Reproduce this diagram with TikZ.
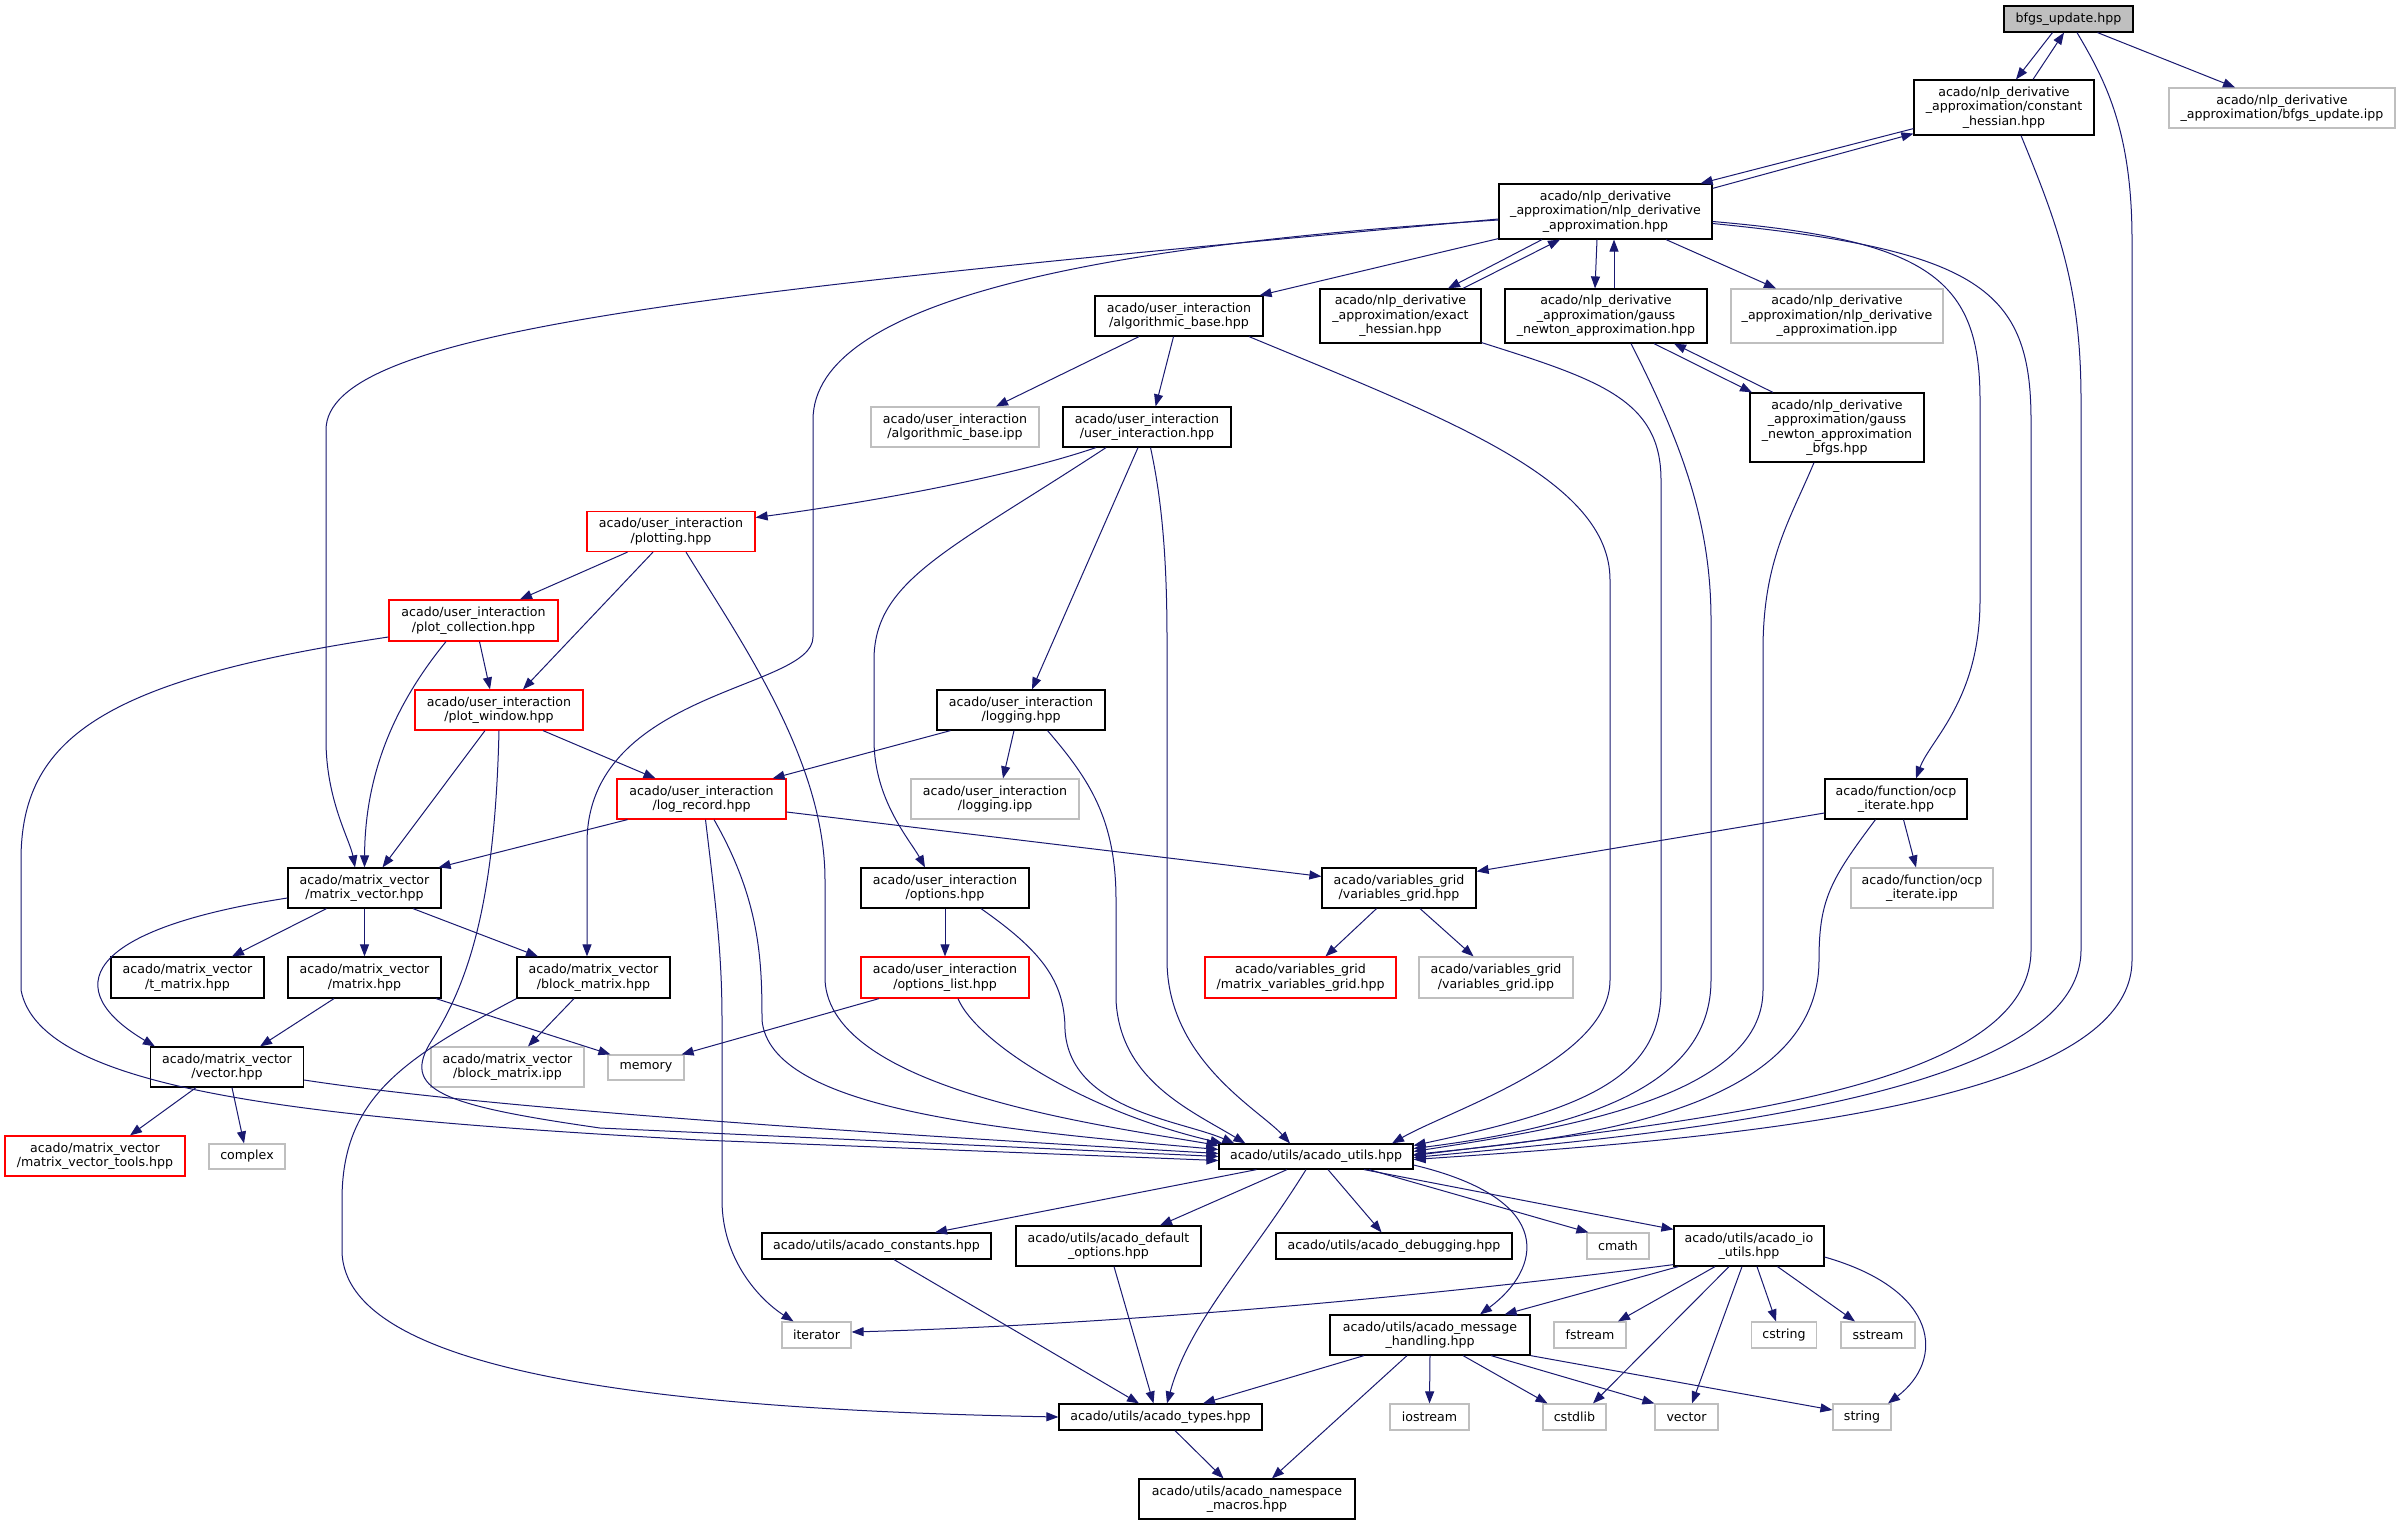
\documentclass[tikz,border=0pt]{standalone}
\usepackage{fontspec}
\setmainfont{DejaVu Sans}
\usetikzlibrary{arrows.meta}
\definecolor{edgec}{HTML}{191970}
\definecolor{grayb}{HTML}{BFBFBF}
\begin{document}
\begin{tikzpicture}[x=1pt,y=-1pt,
  boxn/.style={draw=black, line width=1.2pt, align=center, inner sep=0pt, font=\fontsize{12.6}{14.5}\selectfont, text=black},
  boxr/.style={boxn, draw=red},
  boxg/.style={boxn, draw=grayb},
  edg/.style={draw=edgec, line width=1pt, -{Triangle[length=12pt,width=9pt]}},
]
\fill[white] (0,0) rectangle (2403,1525);
\useasboundingbox (0,0) rectangle (2403,1525);

% nodes
\node[boxn, fill=grayb, minimum width=129pt, minimum height=26pt] (bfgs) at (2068.5,19) {bfgs\_update.hpp};
\node[boxn, minimum width=180pt, minimum height=55pt] (ch) at (2004,107.5) {acado/nlp\_derivative\\\_approximation/constant\\\_hessian.hpp};
\node[boxg, minimum width=226pt, minimum height=40pt] (bipp) at (2282,108) {acado/nlp\_derivative\\\_approximation/bfgs\_update.ipp};
\node[boxn, minimum width=213pt, minimum height=55pt] (nlp) at (1605.5,211.5) {acado/nlp\_derivative\\\_approximation/nlp\_derivative\\\_approximation.hpp};
\node[boxn, minimum width=168pt, minimum height=40pt] (ab) at (1179,316) {acado/user\_interaction\\/algorithmic\_base.hpp};
\node[boxn, minimum width=161pt, minimum height=54pt] (eh) at (1400.5,316) {acado/nlp\_derivative\\\_approximation/exact\\\_hessian.hpp};
\node[boxn, minimum width=202pt, minimum height=54pt] (gn) at (1606,316) {acado/nlp\_derivative\\\_approximation/gauss\\\_newton\_approximation.hpp};
\node[boxg, minimum width=212pt, minimum height=54pt] (nlpipp) at (1837,316) {acado/nlp\_derivative\\\_approximation/nlp\_derivative\\\_approximation.ipp};
\node[boxg, minimum width=168pt, minimum height=40pt] (abipp) at (955,427) {acado/user\_interaction\\/algorithmic\_base.ipp};
\node[boxn, minimum width=168pt, minimum height=40pt] (ui) at (1147,427) {acado/user\_interaction\\/user\_interaction.hpp};
\node[boxn, minimum width=174pt, minimum height=69pt] (gnb) at (1837,427.5) {acado/nlp\_derivative\\\_approximation/gauss\\\_newton\_approximation\\\_bfgs.hpp};
\node[boxr, minimum width=168pt, minimum height=40pt] (plotting) at (671,531.5) {acado/user\_interaction\\/plotting.hpp};
\node[boxr, minimum width=169pt, minimum height=41pt] (pc) at (473.5,620.5) {acado/user\_interaction\\/plot\_collection.hpp};
\node[boxr, minimum width=168pt, minimum height=40pt] (pw) at (499,710) {acado/user\_interaction\\/plot\_window.hpp};
\node[boxn, minimum width=168pt, minimum height=40pt] (logging) at (1021,710) {acado/user\_interaction\\/logging.hpp};
\node[boxr, minimum width=169pt, minimum height=40pt] (lr) at (701.5,799) {acado/user\_interaction\\/log\_record.hpp};
\node[boxg, minimum width=168pt, minimum height=40pt] (logipp) at (995,799) {acado/user\_interaction\\/logging.ipp};
\node[boxn, minimum width=142pt, minimum height=40pt] (ocp) at (1896,799) {acado/function/ocp\\\_iterate.hpp};
\node[boxn, minimum width=153pt, minimum height=40pt] (mv) at (364.5,888) {acado/matrix\_vector\\/matrix\_vector.hpp};
\node[boxn, minimum width=168pt, minimum height=40pt] (opt) at (945,888) {acado/user\_interaction\\/options.hpp};
\node[boxn, minimum width=154pt, minimum height=40pt] (vg) at (1399,888) {acado/variables\_grid\\/variables\_grid.hpp};
\node[boxg, minimum width=142pt, minimum height=40pt] (ocpipp) at (1922,888) {acado/function/ocp\\\_iterate.ipp};
\node[boxn, minimum width=153pt, minimum height=41pt] (tm) at (187.5,977.5) {acado/matrix\_vector\\/t\_matrix.hpp};
\node[boxn, minimum width=153pt, minimum height=41pt] (mat) at (364.5,977.5) {acado/matrix\_vector\\/matrix.hpp};
\node[boxn, minimum width=153pt, minimum height=41pt] (bm) at (593.5,977.5) {acado/matrix\_vector\\/block\_matrix.hpp};
\node[boxr, minimum width=168pt, minimum height=41pt] (ol) at (945,977.5) {acado/user\_interaction\\/options\_list.hpp};
\node[boxr, minimum width=191pt, minimum height=41pt] (mvg) at (1300.5,977.5) {acado/variables\_grid\\/matrix\_variables\_grid.hpp};
\node[boxg, minimum width=154pt, minimum height=41pt] (vgipp) at (1496,977.5) {acado/variables\_grid\\/variables\_grid.ipp};
\node[boxn, minimum width=153pt, minimum height=40pt] (vec) at (227,1067) {acado/matrix\_vector\\/vector.hpp};
\node[boxg, minimum width=153pt, minimum height=40pt] (bmipp) at (507.5,1067) {acado/matrix\_vector\\/block\_matrix.ipp};
\node[boxg, minimum width=76pt, minimum height=25pt] (mem) at (646,1067.5) {memory};
\node[boxr, minimum width=180pt, minimum height=40pt] (mvt) at (95,1156) {acado/matrix\_vector\\/matrix\_vector\_tools.hpp};
\node[boxg, minimum width=76pt, minimum height=25pt] (cplx) at (247,1156.5) {complex};
\node[boxn, minimum width=194pt, minimum height=25pt] (au) at (1316,1156.5) {acado/utils/acado\_utils.hpp};
\node[boxn, minimum width=229pt, minimum height=26pt] (ac) at (876.5,1246) {acado/utils/acado\_constants.hpp};
\node[boxn, minimum width=185pt, minimum height=40pt] (ado) at (1108.5,1246) {acado/utils/acado\_default\\\_options.hpp};
\node[boxn, minimum width=236pt, minimum height=26pt] (adb) at (1394,1246) {acado/utils/acado\_debugging.hpp};
\node[boxg, minimum width=62pt, minimum height=26pt] (cmath) at (1618,1246) {cmath};
\node[boxn, minimum width=150pt, minimum height=40pt] (aio) at (1749,1246) {acado/utils/acado\_io\\\_utils.hpp};
\node[boxg, minimum width=69pt, minimum height=26pt] (iter) at (816.5,1335) {iterator};
\node[boxn, minimum width=200pt, minimum height=40pt] (amh) at (1430,1335) {acado/utils/acado\_message\\\_handling.hpp};
\node[boxg, minimum width=72pt, minimum height=26pt] (fstream) at (1590,1335) {fstream};
\node[boxg, minimum width=65pt, minimum height=26pt] (cstring) at (1784,1335) {cstring};
\node[boxg, minimum width=74pt, minimum height=26pt] (sstream) at (1878,1335) {sstream};
\node[boxn, minimum width=203pt, minimum height=26pt] (at) at (1160.5,1417) {acado/utils/acado\_types.hpp};
\node[boxg, minimum width=79pt, minimum height=26pt] (iostream) at (1429.5,1417) {iostream};
\node[boxg, minimum width=63pt, minimum height=26pt] (cstdlib) at (1574.5,1417) {cstdlib};
\node[boxg, minimum width=63pt, minimum height=26pt] (vect) at (1686.5,1417) {vector};
\node[boxg, minimum width=58pt, minimum height=26pt] (str) at (1862,1417) {string};
\node[boxn, minimum width=216pt, minimum height=40pt] (anm) at (1247,1499) {acado/utils/acado\_namespace\\\_macros.hpp};

% edges
\draw[edg] ([xshift=-16pt]bfgs.south) -- ([xshift=12pt]ch.north);
\draw[edg] ([xshift=29pt]ch.north) -- ([xshift=-4.5pt]bfgs.south);
\draw[edg] ([xshift=29pt]bfgs.south) -- ([xshift=-47pt]bipp.north);
\draw[edg] ([xshift=8.5pt]bfgs.south) .. controls (2105,80) and (2132,130) .. (2132,240) -- (2132,960) .. controls (2132,1110) and (1700,1140) .. ([yshift=-3pt]au.east);
\draw[edg] ([xshift=17pt]ch.south) .. controls (2060,230) and (2081,290) .. (2081,400) -- (2081,950) .. controls (2081,1100) and (1650,1135) .. ([yshift=-1pt]au.east);
\draw[edg] ([yshift=-5pt]nlp.north east) -- ([yshift=2pt]ch.south west);
\draw[edg] ([yshift=7pt]ch.south west) -- ([xshift=-12pt]nlp.north east);
\draw[edg] ([yshift=1pt]nlp.south west) -- ([xshift=-4pt]ab.north east);
\draw[edg] ([xshift=-63.5pt]nlp.south) -- ([xshift=47.5pt]eh.north);
\draw[edg] ([xshift=62.5pt]eh.north) -- ([xshift=-45.5pt]nlp.south);
\draw[edg] ([xshift=-8.5pt]nlp.south) -- ([xshift=-11pt]gn.north);
\draw[edg] ([xshift=8pt]gn.north) -- ([xshift=8.5pt]nlp.south);
\draw[edg] ([xshift=60.5pt]nlp.south) -- ([xshift=-61pt]nlpipp.north);
\draw[edg] ([yshift=-10pt]nlp.east) .. controls (1930,240) and (1980,280) .. (1980,400) -- (1980,600) .. controls (1980,700) and (1930,740) .. ([xshift=20pt]ocp.north);
\draw[edg] ([yshift=-12pt]nlp.east) .. controls (1980,250) and (2031,290) .. (2031,420) -- (2031,950) .. controls (2031,1090) and (1700,1120) .. ([yshift=1pt]au.east);
\draw[edg] ([yshift=-7.5pt]nlp.west) .. controls (700,292) and (326,330) .. (326,430) -- (326,740) .. controls (326,800) and (350,840) .. ([xshift=-9.5pt]mv.north);
\draw[edg] ([yshift=-8.5pt]nlp.west) .. controls (1100,245) and (813,300) .. (813,420) -- (813,637) .. controls (813,690) and (587,690) .. (587,843) -- ([xshift=-6.5pt]bm.north);
\draw[edg] ([xshift=48pt]gn.south) -- ([xshift=-85pt]gnb.north);
\draw[edg] ([xshift=-64pt]gnb.north) -- ([xshift=68pt]gn.south);
\draw[edg] ([xshift=25pt]gn.south) .. controls (1680,440) and (1711,520) .. (1711,620) -- (1711,980) .. controls (1711,1080) and (1600,1125) .. ([yshift=8pt]au.east);
\draw[edg] ([yshift=1pt]eh.south east) .. controls (1600,380) and (1661,400) .. (1661,480) -- (1661,990) .. controls (1661,1080) and (1580,1110) .. ([yshift=11pt]au.east);
\draw[edg] ([xshift=-23pt]gnb.south) .. controls (1790,520) and (1763,560) .. (1763,650) -- (1763,990) .. controls (1763,1100) and (1550,1130) .. ([yshift=5pt]au.east);
\draw[edg] ([xshift=-20.5pt]ocp.south) .. controls (1830,880) and (1819,900) .. (1819,960) .. controls (1819,1120) and (1550,1140) .. ([yshift=2pt]au.east);
\draw[edg] ([yshift=-14pt]ocp.west) -- ([yshift=-4pt]vg.north east);
\draw[edg] ([xshift=7.5pt]ocp.south) -- ([xshift=-6pt]ocpipp.north);
\draw[edg] ([xshift=-40pt]ab.south) -- ([xshift=41pt]abipp.north);
\draw[edg] ([xshift=-5.5pt]ab.south) -- ([xshift=8.6pt]ui.north);
\draw[edg] ([xshift=70pt]ab.south) .. controls (1450,420) and (1610,480) .. (1610,580) -- (1610,980) .. controls (1610,1060) and (1450,1110) .. ([xshift=76pt]au.north);
\draw[edg] ([xshift=-51pt]ui.south) .. controls (1000,480) and (850,505) .. ([yshift=14pt]plotting.east);
\draw[edg] ([xshift=-41pt]ui.south) .. controls (950,550) and (874,580) .. (874,660) -- (874,740) .. controls (874,800) and (910,840) .. ([xshift=-20pt]opt.north);
\draw[edg] ([xshift=-9pt]ui.south) -- ([xshift=11pt]logging.north);
\draw[edg] ([xshift=3.5pt]ui.south) .. controls (1162,500) and (1167,560) .. (1167,640) -- (1167,960) .. controls (1167,1060) and (1260,1110) .. ([xshift=-26pt]au.north);
\draw[edg] ([xshift=-43.5pt]plotting.south) -- ([xshift=46.5pt]pc.north);
\draw[edg] ([xshift=-18pt]plotting.south) -- ([xshift=24pt]pw.north);
\draw[edg] ([xshift=15pt]plotting.south) .. controls (740,640) and (825,760) .. (825,880) -- (825,980) .. controls (830,1090) and (1100,1125) .. ([yshift=11pt]au.west);
\draw[edg] ([xshift=6pt]pc.south) -- ([xshift=-9pt]pw.north);
\draw[edg] ([xshift=-27.5pt]pc.south) .. controls (390,710) and (365,780) .. (mv.north);
\draw[edg] ([yshift=-16.5pt]pc.west) .. controls (100,680) and (21,740) .. (21,860) -- (21,990) .. controls (40,1090) and (300,1118) .. (700,1140) -- ([yshift=-4pt]au.west);
\draw[edg] ([xshift=-14pt]pw.south) -- ([xshift=18pt]mv.north);
\draw[edg] ([xshift=44pt]pw.south) -- ([xshift=-46pt]lr.north);
\draw[edg] (pw.south) .. controls (495,900) and (470,980) .. (432,1040) .. controls (400,1090) and (440,1105) .. (600,1128) -- ([yshift=0pt]au.west);
\draw[edg] ([xshift=-70.5pt]logging.south) -- ([xshift=-14pt]lr.north east);
\draw[edg] ([xshift=-7pt]logging.south) -- ([xshift=8pt]logipp.north);
\draw[edg] ([xshift=26.5pt]logging.south) .. controls (1090,780) and (1116,820) .. (1116,900) -- (1116,1000) .. controls (1120,1080) and (1190,1110) .. ([xshift=27pt]au.north west);
\draw[edg] ([xshift=-74pt]lr.south) -- ([xshift=-3pt]mv.north east);
\draw[edg] ([yshift=-13pt]lr.east) -- ([yshift=-9pt]vg.north west);
\draw[edg] ([xshift=4pt]lr.south) .. controls (715,900) and (722,950) .. (722,1020) -- (722,1200) .. controls (722,1260) and (760,1300) .. ([xshift=-23pt]iter.north);
\draw[edg] ([xshift=12.5pt]lr.south) .. controls (760,900) and (762,960) .. (762,1020) .. controls (770,1110) and (1000,1130) .. ([yshift=7pt]au.west);
\draw[edg] ([xshift=-38pt]mv.south) -- ([xshift=44.5pt]tm.north);
\draw[edg] (mv.south) -- (mat.north);
\draw[edg] ([xshift=48.5pt]mv.south) -- ([xshift=-55.5pt]bm.north);
\draw[edg] ([yshift=-10pt]mv.west) .. controls (80,930) and (60,990) .. ([xshift=5pt]vec.north west);
\draw[edg] ([xshift=-30.5pt]mat.south) -- ([xshift=33pt]vec.north);
\draw[edg] ([xshift=71.5pt]mat.south) -- ([xshift=3pt]mem.north west);
\draw[edg] ([xshift=-19.5pt]bm.south) -- ([xshift=20.5pt]bmipp.north);
\draw[edg] (bm.south west) .. controls (400,1060) and (342,1100) .. (342,1200) -- (342,1250) .. controls (342,1380) and (700,1410) .. (at.west);
\draw[edg] ([xshift=-31pt]vec.south) -- ([xshift=35pt]mvt.north);
\draw[edg] ([xshift=5pt]vec.south) -- ([xshift=-3pt]cplx.north);
\draw[edg] ([yshift=-13pt]vec.east) .. controls (500,1110) and (900,1135) .. ([yshift=3pt]au.west);
\draw[edg] (opt.south) -- (ol.north);
\draw[edg] ([xshift=36pt]opt.south) .. controls (1040,950) and (1065,980) .. (1065,1030) .. controls (1070,1110) and (1180,1120) .. ([xshift=16pt]au.north west);
\draw[edg] ([xshift=-66pt]ol.south) -- ([xshift=-3pt]mem.north east);
\draw[edg] ([xshift=13pt]ol.south) .. controls (975,1040) and (1080,1110) .. ([xshift=4pt]au.north west);
\draw[edg] ([xshift=-22.5pt]vg.south) -- ([xshift=25pt]mvg.north);
\draw[edg] ([xshift=21pt]vg.south) -- ([xshift=-22.5pt]vgipp.north);
\draw[edg] ([xshift=-59.5pt]au.south) -- ([xshift=58.5pt]ac.north);
\draw[edg] ([xshift=-29pt]au.south) -- ([xshift=51.5pt]ado.north);
\draw[edg] ([xshift=-10pt]au.south) .. controls (1250,1260) and (1190,1320) .. ([xshift=6.5pt]at.north);
\draw[edg] ([xshift=12pt]au.south) -- ([xshift=-12.4pt]adb.north);
\draw[edg] ([xshift=53pt]au.south) -- ([xshift=2pt]cmath.north west);
\draw[edg] ([xshift=48pt]au.south) -- ([yshift=-4pt]aio.north west);
\draw[edg] ([yshift=-8.5pt]au.east) .. controls (1560,1200) and (1540,1270) .. ([xshift=50pt]amh.north);
\draw[edg] ([xshift=17.5pt]ac.south) -- ([xshift=-21.5pt]at.north);
\draw[edg] ([xshift=5.5pt]ado.south) -- ([xshift=-7pt]at.north);
\draw[edg] ([xshift=-66pt]amh.south) -- ([xshift=42.5pt]at.north);
\draw[edg] ([xshift=-23pt]amh.south) -- ([xshift=25pt]anm.north);
\draw[edg] (amh.south) -- (iostream.north);
\draw[edg] ([xshift=33pt]amh.south) -- ([xshift=-27pt]cstdlib.north);
\draw[edg] ([xshift=61pt]amh.south) -- (vect.north west);
\draw[edg] (amh.south east) -- ([yshift=7pt]str.west);
\draw[edg] ([xshift=14.5pt]at.south) -- ([xshift=-23.5pt]anm.north);
\draw[edg] ([yshift=2pt]aio.south west) .. controls (1400,1300) and (1100,1325) .. ([yshift=3pt]iter.east);
\draw[edg] ([xshift=5pt]aio.south west) -- ([xshift=-26pt]amh.north east);
\draw[edg] ([xshift=-34pt]aio.south) -- ([xshift=28pt]fstream.north);
\draw[edg] ([xshift=-20pt]aio.south) -- ([xshift=18.5pt]cstdlib.north);
\draw[edg] ([xshift=-7pt]aio.south) -- ([xshift=5.5pt]vect.north);
\draw[edg] ([xshift=8pt]aio.south) -- ([xshift=-8pt]cstring.north);
\draw[edg] ([xshift=28.5pt]aio.south) -- ([xshift=-23pt]sstream.north);
\draw[edg] ([yshift=-11pt]aio.east) .. controls (1940,1290) and (1945,1360) .. ([xshift=26pt]str.north);
\end{tikzpicture}
\end{document}
